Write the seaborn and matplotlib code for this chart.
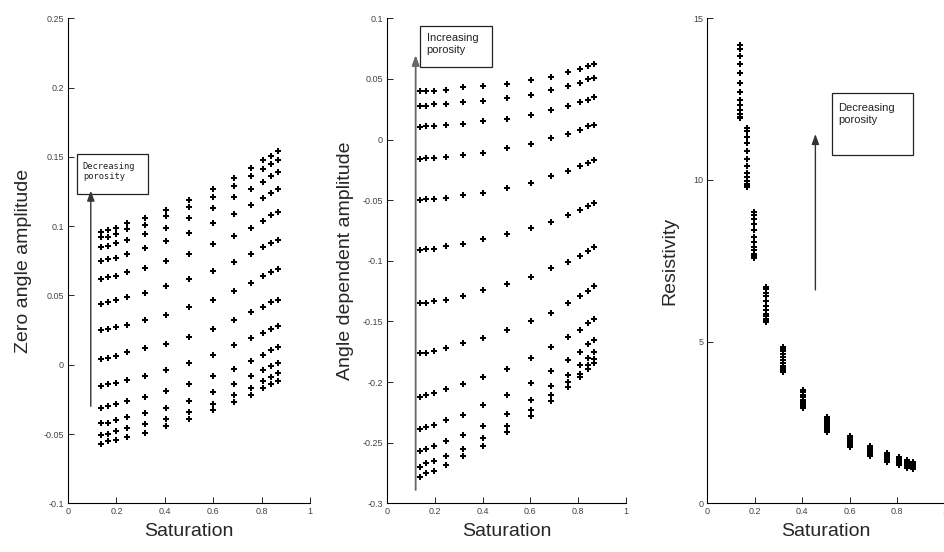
import matplotlib
matplotlib.use("Agg")
import matplotlib.pyplot as plt
from matplotlib.patches import Rectangle
from matplotlib.ticker import MultipleLocator, FuncFormatter
import seaborn as sns
import pandas as pd

sns.set_style("white")
plt.rcParams['font.family'] = ['Liberation Sans', 'DejaVu Sans']

# water saturation levels (x axis, shared by all panels)
saturation = [0.137, 0.165, 0.198, 0.245, 0.318, 0.403, 0.502, 0.601, 0.686, 0.758, 0.806, 0.841, 0.866]

# zero angle amplitude, one row per porosity level (top row = lowest porosity)
zero_angle = [
    [0.096, 0.097, 0.099, 0.102, 0.106, 0.112, 0.119, 0.127, 0.135, 0.142, 0.148, 0.151, 0.154],
    [0.092, 0.092, 0.094, 0.098, 0.101, 0.107, 0.114, 0.121, 0.129, 0.136, 0.141, 0.145, 0.148],
    [0.085, 0.086, 0.088, 0.090, 0.094, 0.099, 0.106, 0.113, 0.121, 0.127, 0.132, 0.136, 0.139],
    [0.075, 0.076, 0.077, 0.080, 0.084, 0.089, 0.095, 0.102, 0.109, 0.115, 0.120, 0.124, 0.127],
    [0.062, 0.063, 0.064, 0.067, 0.070, 0.075, 0.080, 0.087, 0.093, 0.099, 0.104, 0.108, 0.110],
    [0.044, 0.045, 0.047, 0.049, 0.052, 0.057, 0.062, 0.068, 0.074, 0.080, 0.085, 0.088, 0.090],
    [0.025, 0.026, 0.027, 0.029, 0.032, 0.036, 0.042, 0.047, 0.053, 0.059, 0.064, 0.067, 0.069],
    [0.004, 0.005, 0.006, 0.009, 0.012, 0.015, 0.020, 0.026, 0.032, 0.038, 0.042, 0.045, 0.047],
    [-0.015, -0.014, -0.013, -0.011, -0.008, -0.004, 0.001, 0.007, 0.014, 0.019, 0.023, 0.026, 0.028],
    [-0.031, -0.030, -0.028, -0.026, -0.023, -0.019, -0.014, -0.008, -0.003, 0.003, 0.007, 0.011, 0.013],
    [-0.042, -0.042, -0.040, -0.038, -0.035, -0.031, -0.026, -0.020, -0.014, -0.008, -0.004, -0.001, 0.001],
    [-0.051, -0.050, -0.048, -0.046, -0.043, -0.039, -0.034, -0.028, -0.022, -0.017, -0.012, -0.009, -0.006],
    [-0.057, -0.055, -0.054, -0.052, -0.049, -0.044, -0.039, -0.033, -0.027, -0.022, -0.017, -0.014, -0.012],
]

# angle dependent amplitude, one row per porosity level (top row = highest porosity)
angle_dep = [
    [0.040, 0.040, 0.040, 0.041, 0.043, 0.044, 0.046, 0.049, 0.052, 0.056, 0.058, 0.061, 0.062],
    [0.028, 0.028, 0.029, 0.029, 0.031, 0.032, 0.034, 0.037, 0.041, 0.044, 0.047, 0.050, 0.051],
    [0.010, 0.011, 0.011, 0.012, 0.013, 0.015, 0.017, 0.020, 0.024, 0.028, 0.031, 0.033, 0.035],
    [-0.016, -0.015, -0.015, -0.014, -0.013, -0.011, -0.007, -0.004, 0.001, 0.005, 0.008, 0.011, 0.012],
    [-0.050, -0.049, -0.049, -0.048, -0.046, -0.044, -0.040, -0.036, -0.030, -0.026, -0.022, -0.019, -0.017],
    [-0.091, -0.090, -0.090, -0.088, -0.086, -0.082, -0.078, -0.073, -0.068, -0.062, -0.058, -0.055, -0.052],
    [-0.135, -0.135, -0.133, -0.132, -0.129, -0.124, -0.119, -0.113, -0.106, -0.101, -0.096, -0.092, -0.089],
    [-0.176, -0.176, -0.174, -0.172, -0.168, -0.164, -0.157, -0.150, -0.143, -0.135, -0.129, -0.125, -0.121],
    [-0.212, -0.211, -0.209, -0.206, -0.202, -0.196, -0.189, -0.180, -0.171, -0.163, -0.157, -0.151, -0.148],
    [-0.239, -0.237, -0.235, -0.231, -0.227, -0.219, -0.211, -0.201, -0.191, -0.182, -0.175, -0.169, -0.165],
    [-0.257, -0.255, -0.253, -0.249, -0.244, -0.236, -0.226, -0.215, -0.203, -0.194, -0.186, -0.180, -0.175],
    [-0.270, -0.267, -0.265, -0.261, -0.255, -0.246, -0.236, -0.223, -0.211, -0.200, -0.193, -0.186, -0.181],
    [-0.278, -0.275, -0.273, -0.268, -0.261, -0.253, -0.241, -0.228, -0.216, -0.204, -0.196, -0.189, -0.184],
]

# resistivity, one list per saturation level (top to bottom)
resistivity = [
    [14.18, 14.05, 13.85, 13.59, 13.30, 12.99, 12.71, 12.48, 12.31, 12.15, 12.03, 11.96, 11.92],
    [11.61, 11.50, 11.34, 11.13, 10.90, 10.65, 10.42, 10.23, 10.10, 9.97, 9.87, 9.81, 9.78],
    [9.00, 8.92, 8.79, 8.63, 8.45, 8.25, 8.08, 7.93, 7.83, 7.72, 7.65, 7.61, 7.58],
    [6.68, 6.62, 6.52, 6.40, 6.26, 6.11, 5.98, 5.87, 5.79, 5.71, 5.65, 5.62, 5.60],
    [4.82, 4.77, 4.70, 4.61, 4.52, 4.42, 4.33, 4.25, 4.19, 4.14, 4.10, 4.08, 4.07],
    [3.51, 3.48, 3.43, 3.36, 3.29, 3.21, 3.14, 3.08, 3.04, 3.00, 2.97, 2.95, 2.94],
    [2.66, 2.63, 2.59, 2.54, 2.48, 2.42, 2.36, 2.31, 2.28, 2.25, 2.23, 2.22, 2.22],
    [2.08, 2.06, 2.03, 1.99, 1.94, 1.90, 1.85, 1.82, 1.79, 1.77, 1.75, 1.74, 1.73],
    [1.77, 1.75, 1.72, 1.69, 1.65, 1.60, 1.57, 1.53, 1.51, 1.49, 1.47, 1.46, 1.46],
    [1.55, 1.53, 1.51, 1.48, 1.44, 1.40, 1.37, 1.34, 1.32, 1.30, 1.28, 1.27, 1.27],
    [1.44, 1.43, 1.41, 1.38, 1.35, 1.31, 1.28, 1.26, 1.24, 1.22, 1.20, 1.19, 1.19],
    [1.34, 1.33, 1.31, 1.28, 1.25, 1.22, 1.19, 1.16, 1.15, 1.13, 1.11, 1.10, 1.10],
    [1.29, 1.28, 1.26, 1.23, 1.20, 1.17, 1.14, 1.12, 1.10, 1.08, 1.07, 1.06, 1.06],
]


def rows_to_frame(rows):
    recs = []
    for row in rows:
        for s, v in zip(saturation, row):
            recs.append({"saturation": s, "value": v})
    return pd.DataFrame(recs)


df_zero = rows_to_frame(zero_angle)
df_angle = rows_to_frame(angle_dep)
df_res = pd.DataFrame([{"saturation": s, "value": v}
                       for s, col in zip(saturation, resistivity) for v in col])

fig = plt.figure(figsize=(9.45, 5.52), dpi=100)
ax1 = fig.add_axes([0.072, 0.0882, 0.256, 0.8786])
ax2 = fig.add_axes([0.4095, 0.0882, 0.2529, 0.8786])
ax3 = fig.add_axes([0.7485, 0.0882, 0.2513, 0.8786])

fmt = FuncFormatter(lambda v, p: f"{v:g}")


def style_axes(ax, ylim, ystep, ylabel, lpad):
    ax.set_xlim(0, 1)
    ax.set_ylim(*ylim)
    ax.xaxis.set_major_locator(MultipleLocator(0.2))
    ax.yaxis.set_major_locator(MultipleLocator(ystep))
    ax.xaxis.set_major_formatter(fmt)
    ax.yaxis.set_major_formatter(fmt)
    ax.tick_params(direction="in", length=4, width=0.7, labelsize=6.5,
                   labelcolor="#444444", pad=3, left=True, bottom=True)
    for side in ["top", "right"]:
        ax.spines[side].set_visible(False)
    for side in ["left", "bottom"]:
        ax.spines[side].set_color("black")
        ax.spines[side].set_linewidth(0.8)
    ax.set_xlabel("Saturation", fontsize=14, labelpad=5)
    ax.set_ylabel(ylabel, fontsize=14, labelpad=lpad)


def add_note(ax, box, text_xy, text, arrow_x, arrow_y, family, size, acolor, alw):
    x0, y0, x1, y1 = box
    ax.add_patch(Rectangle((x0, y0), x1 - x0, y1 - y0, facecolor="white",
                           edgecolor="#222222", lw=0.9, zorder=3))
    ax.text(text_xy[0], text_xy[1], text, va="top", ha="left", fontsize=size,
            family=family, color="#222222", zorder=4, linespacing=1.25)
    ax.annotate("", xy=(arrow_x, arrow_y[1]), xytext=(arrow_x, arrow_y[0]),
                arrowprops=dict(arrowstyle="-|>,head_length=0.6,head_width=0.22",
                                color=acolor, lw=alw, shrinkA=0, shrinkB=0),
                zorder=4)


for ax, df in [(ax1, df_zero), (ax2, df_angle), (ax3, df_res)]:
    sns.scatterplot(data=df, x="saturation", y="value", ax=ax, marker="P",
                    s=14, color="black", linewidth=0, legend=False)

style_axes(ax1, (-0.1, 0.25), 0.05, "Zero angle amplitude", 8)
style_axes(ax2, (-0.3, 0.1), 0.05, "Angle dependent amplitude", 6)
style_axes(ax3, (0, 15), 5, "Resistivity", 11)

add_note(ax1, (0.038, 0.123, 0.329, 0.152), (0.061, 0.1465),
         "Decreasing\nporosity", 0.094, (-0.030, 0.1256),
         ["DejaVu Sans Mono"], 6.3, "#333333", 1.0)
add_note(ax2, (0.138, 0.0596, 0.441, 0.0939), (0.166, 0.0876),
         "Increasing\nporosity", 0.120, (-0.289, 0.0697),
         ["Liberation Sans"], 8, "#666666", 1.3)
add_note(ax3, (0.525, 10.78, 0.867, 12.68), (0.552, 12.39),
         "Decreasing\nporosity", 0.455, (6.6, 11.42),
         ["Liberation Sans"], 8, "#333333", 1.0)

fig.savefig("out.png", dpi=100)
